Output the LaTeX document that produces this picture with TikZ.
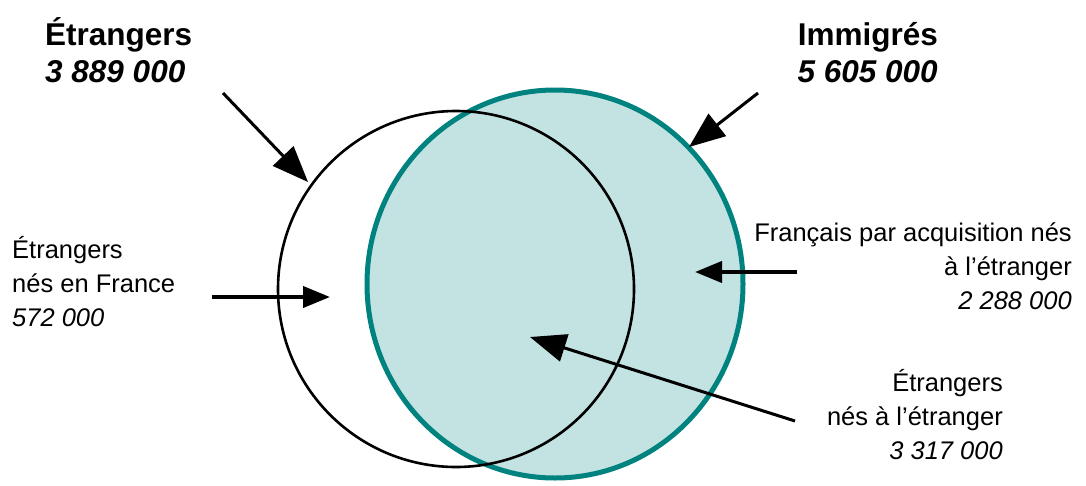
\documentclass[tikz,border=0pt]{standalone}
\usepackage{fontspec}
\setmainfont{Liberation Sans}
\usetikzlibrary{arrows.meta}
\definecolor{teal}{HTML}{00827E}
\definecolor{tealfill}{HTML}{C3E3E3}
\definecolor{ink}{HTML}{000000}
\tikzset{ring/.style={draw=ink,line width=2.6pt},
  pointer/.style={-{Triangle[length=36pt,width=28pt]},draw=ink,line width=3pt},
  flatpointer/.style={-{Triangle[length=27pt,width=21pt]},draw=ink,line width=4pt},
  title/.style={inner sep=0pt,font=\fontsize{31.5}{37}\selectfont\bfseries},
  label/.style={inner sep=0pt,font=\fontsize{25.5}{34}\selectfont}}

\begin{document}
\begin{tikzpicture}[x=1pt,y=-1pt]
        \useasboundingbox (0,0) rectangle (1086,485);
        \fill[tealfill] (555,284) ellipse[x radius=188,y radius=194];
        \draw[teal,line width=5pt] (555,284) ellipse[x radius=188,y radius=194];
        \draw[ring] (456,289) circle(178);
        % titles
        \node[title, anchor=base west, align=left] (etr) at (45,82){Étrangers\\\itshape 3 889 000};
        \node[title, anchor=base east, align=right] (imm) at (938,82){Immigrés\\\itshape 5 605 000};
        % side labels
        \node[label, anchor=base west, align=left] (nesfr) at (12,326){Étrangers\\nés en France\\\itshape 572 000};
        \node[label, anchor=base east, align=right] (fracq) at (1072,309){Français par acquisition nés\\à l’étranger\\\itshape 2 288 000};
        \node[label, anchor=base east, align=right] (nesetr) at (1003,459){Étrangers\\nés à l’étranger\\\itshape 3 317 000};
        % arrow ends
        \coordinate (etrS) at (223,93);   \coordinate (etrT) at (308,182);
        \coordinate (immS) at (758,93);   \coordinate (immT) at (689,147);
        \coordinate (nesfrS) at (212,297); \coordinate (nesfrT) at (330,297);
        \coordinate (fracqS) at (797,272); \coordinate (fracqT) at (695,272);
        \coordinate (nesetrS) at (795,421); \coordinate (nesetrT) at (530,337);
        \draw[pointer] (etrS) -- (etrT);
        \draw[pointer] (immS) -- (immT);
        \draw[flatpointer] (nesfrS) -- (nesfrT);
        \draw[flatpointer] (fracqS) -- (fracqT);
        \draw[pointer] (nesetrS) -- (nesetrT);
      \end{tikzpicture}
\end{document}
